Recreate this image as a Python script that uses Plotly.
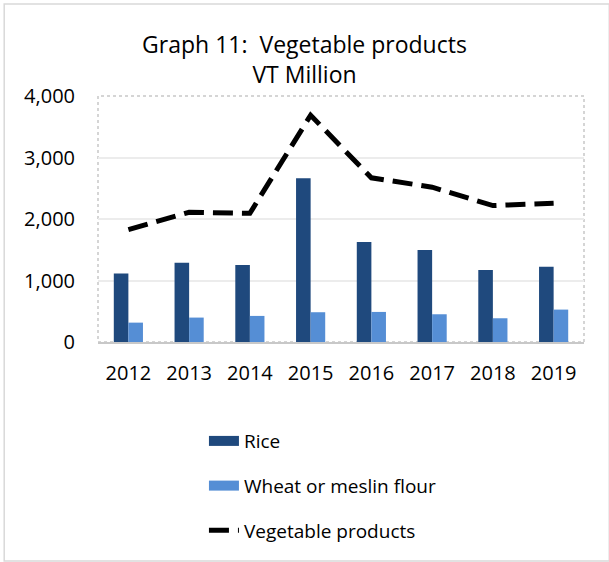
import plotly.graph_objects as go

years = ["2012", "2013", "2014", "2015", "2016", "2017", "2018", "2019"]
rice = [1114, 1289, 1251, 2664, 1626, 1496, 1170, 1223]
wheat = [315, 397, 424, 484, 489, 451, 386, 527]
vegetable = [1827, 2110, 2093, 3687, 2670, 2517, 2218, 2256]

FONT = "'Open Sans', sans-serif"
RICE_COL = "#1f497d"
WHEAT_COL = "#558ed5"

fig = go.Figure()
fig.add_trace(go.Bar(x=years, y=rice, name="Rice", showlegend=False,
                     marker=dict(color=RICE_COL, line=dict(width=0))))
fig.add_trace(go.Bar(x=years, y=wheat, name="Wheat or meslin flour", showlegend=False,
                     marker=dict(color=WHEAT_COL, line=dict(width=0))))
fig.add_trace(go.Scatter(x=years, y=vegetable, name="Vegetable products", mode="lines",
                         legendgroup="c", legendrank=3,
                         line=dict(color="black", width=5, dash="20px,9px")))

# legend proxies so the bar keys look like wide blocks
fig.add_trace(go.Scatter(x=[None], y=[None], mode="lines", name="Rice", legendgroup="a", legendrank=1,
                         line=dict(color=RICE_COL, width=14)))
fig.add_trace(go.Scatter(x=[None], y=[None], mode="lines", name="Wheat or meslin flour", legendgroup="b",
                         legendrank=2, line=dict(color=WHEAT_COL, width=14)))

# dotted plot-area border and outer chart border
shapes = [
    dict(type="rect", xref="paper", yref="paper", x0=0, x1=1, y0=0, y1=1,
         line=dict(color="#c8c8c8", width=1.5, dash="dot"), layer="below"),
    dict(type="rect", xref="paper", yref="paper", x0=-0.193, x1=1.052, y0=-0.89, y1=1.374,
         line=dict(color="#d9d9d9", width=1.5)),
]

fig.update_layout(
    width=609, height=562,
    margin=dict(l=98, r=25, t=96, b=220),
    paper_bgcolor="white", plot_bgcolor="white",
    font=dict(family=FONT, size=20, color="black"),
    title=dict(text="Graph 11:  Vegetable products<br>VT Million", x=0.5, xanchor="center",
               y=0.905, yanchor="top", font=dict(family=FONT, size=23, color="black")),
    barmode="group", bargap=0.52, bargroupgap=0,
    xaxis=dict(showgrid=False, showline=True, linecolor="#c8c8c8", linewidth=1.5,
               ticks="", ticklabelstandoff=12),
    yaxis=dict(range=[0, 4000], dtick=1000, tickformat=",", showgrid=True, gridcolor="#ececec",
               gridwidth=1.5, zeroline=False, ticks="", ticklabelstandoff=22),
    legend=dict(orientation="v", x=0.218, xanchor="left", yref="container", y=0.249, yanchor="top",
                bgcolor="rgba(0,0,0,0)", font=dict(family=FONT, size=19), tracegroupgap=17,
                traceorder="grouped"),
    shapes=shapes,
    showlegend=True,
)

fig.write_html("out.html", config={"displayModeBar": False},
               post_script="document.body.style.margin='0';")
